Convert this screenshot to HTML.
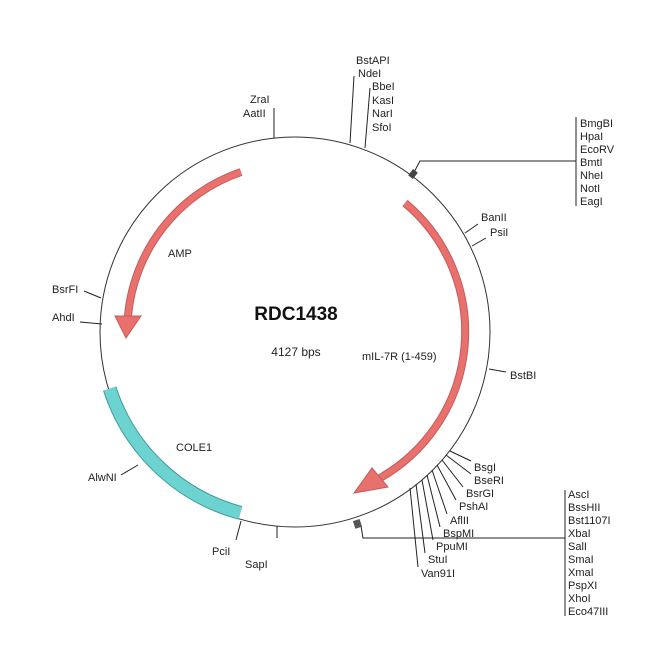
<!DOCTYPE html>
<html><head><meta charset="utf-8"><style>
html,body{margin:0;padding:0;background:#fff;}
svg{display:block;font-family:"Liberation Sans",sans-serif;}
text{font-size:11px;fill:#222;}
</style></head><body>
<svg width="650" height="650" viewBox="0 0 650 650" xmlns="http://www.w3.org/2000/svg">
<circle cx="295" cy="332" r="195" fill="none" stroke="#333" stroke-width="1"/>
<!-- COLE1 -->
<path d="M 109.7 388.6 A 189 189 0 0 0 240.4 512.9" fill="none" stroke="#3a9a9a" stroke-width="14"/>
<path d="M 109.7 388.6 A 189 189 0 0 0 240.4 512.9" fill="none" stroke="#6dd3d1" stroke-width="12"/>
<!-- AMP arrow -->
<path d="M 241 172 A 168 168 0 0 0 128 316" fill="none" stroke="#c85a5a" stroke-width="8"/>
<path d="M 241 172 A 168 168 0 0 0 128 316" fill="none" stroke="#e8706d" stroke-width="6"/>
<polygon points="115,316 141,316 126,338" fill="#e8706d" stroke="#c85a5a" stroke-width="1"/>
<!-- mIL-7R arrow -->
<path d="M 405 203 A 168 168 0 0 1 380 478" fill="none" stroke="#c85a5a" stroke-width="8"/>
<path d="M 405 203 A 168 168 0 0 1 380 478" fill="none" stroke="#e8706d" stroke-width="6"/>
<polygon points="372,468 388,487 354,493" fill="#e8706d" stroke="#c85a5a" stroke-width="1"/>
<g stroke="#222" stroke-width="1" fill="none">
<line x1="274" y1="108" x2="274" y2="138"/>
<path d="M350 143 L354 76"/>
<path d="M365 148 L370 88"/>
<path d="M412 176 L420 161 L576 161"/>
<line x1="576" y1="117" x2="576" y2="206"/>
<line x1="465" y1="233" x2="478" y2="224"/>
<line x1="472" y1="246" x2="486" y2="238"/>
<line x1="489" y1="369" x2="506" y2="372"/>
<line x1="84" y1="291" x2="101" y2="298"/>
<line x1="80" y1="322" x2="102" y2="324"/>
<line x1="121" y1="475" x2="138" y2="465"/>
<line x1="236" y1="540" x2="241" y2="521"/>
<line x1="277" y1="538" x2="277" y2="526"/>
<path d="M361 526 L363 538 L565 538"/>
<line x1="565" y1="490" x2="565" y2="616"/>
<line x1="450" y1="451" x2="471" y2="461"/>
<line x1="446" y1="455" x2="471" y2="474"/>
<line x1="442" y1="460" x2="463" y2="487"/>
<line x1="437" y1="465" x2="456" y2="500"/>
<line x1="432" y1="470" x2="447" y2="514"/>
<line x1="427" y1="475" x2="440" y2="527"/>
<line x1="422" y1="480" x2="433" y2="540"/>
<line x1="416" y1="484" x2="425" y2="553"/>
<line x1="410" y1="488" x2="418" y2="567"/>
</g>
<rect x="410" y="170" width="6" height="8" fill="#444" transform="rotate(38 413 174)"/>
<rect x="354" y="520" width="7" height="8" fill="#555" transform="rotate(-18 357 524)"/>
<text x="356" y="64">BstAPI</text><text x="358" y="77">NdeI</text>
<text x="372" y="90">BbeI</text><text x="372" y="104">KasI</text><text x="372" y="117">NarI</text><text x="372" y="131">SfoI</text>
<text x="250" y="103">ZraI</text><text x="243" y="117">AatII</text>
<text x="580" y="127">BmgBI</text><text x="580" y="140">HpaI</text><text x="580" y="153">EcoRV</text><text x="580" y="166">BmtI</text><text x="580" y="179">NheI</text><text x="580" y="192">NotI</text><text x="580" y="205">EagI</text>
<text x="481" y="221">BanII</text><text x="490" y="236">PsiI</text>
<text x="510" y="379">BstBI</text>
<text x="52" y="293">BsrFI</text><text x="52" y="321">AhdI</text>
<text x="88" y="481">AlwNI</text>
<text x="212" y="555">PciI</text><text x="245" y="568">SapI</text>
<text x="474" y="471">BsgI</text><text x="474" y="484">BseRI</text><text x="466" y="497">BsrGI</text><text x="459" y="510">PshAI</text><text x="450" y="524">AflII</text><text x="443" y="537">BspMI</text><text x="436" y="550">PpuMI</text><text x="428" y="563">StuI</text><text x="421" y="577">Van91I</text>
<text x="568" y="498">AscI</text><text x="568" y="511">BssHII</text><text x="568" y="524">Bst1107I</text><text x="568" y="537">XbaI</text><text x="568" y="550">SalI</text><text x="568" y="563">SmaI</text><text x="568" y="576">XmaI</text><text x="568" y="589">PspXI</text><text x="568" y="602">XhoI</text><text x="568" y="615">Eco47III</text>
<text x="296" y="320" text-anchor="middle" style="font-size:19px;font-weight:bold;fill:#111">RDC1438</text>
<text x="296" y="356" text-anchor="middle" style="font-size:12px">4127 bps</text>
<text x="168" y="257">AMP</text>
<text x="362" y="360">mIL-7R (1-459)</text>
<text x="176" y="451">COLE1</text>
</svg>
</body></html>
